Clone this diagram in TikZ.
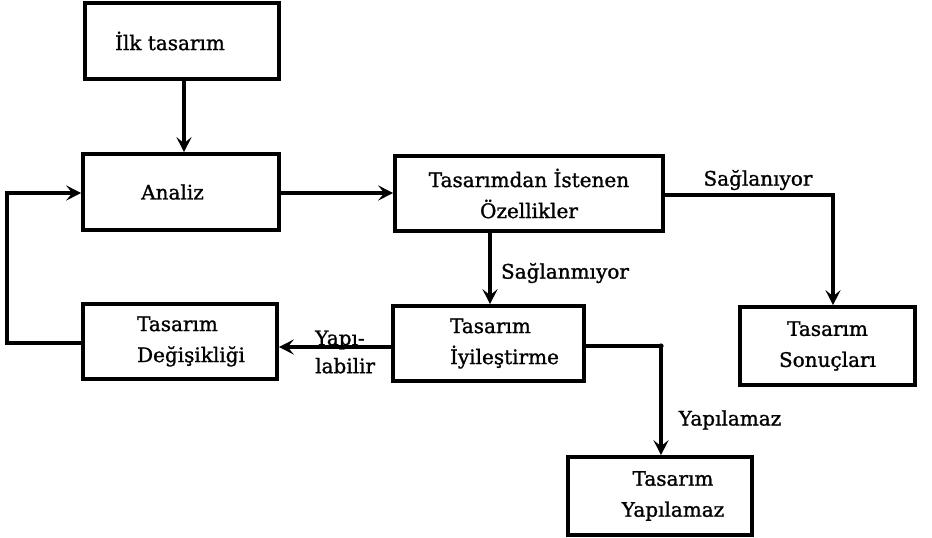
\documentclass[tikz,border=0pt]{standalone}
\usepackage{fontspec}
\setmainfont{DejaVu Serif}[FakeBold=1.2]
\usetikzlibrary{arrows.meta}
\begin{document}
\begin{tikzpicture}[x=1pt,y=-1pt,
  box/.style={draw,line width=3.6pt,inner sep=0pt,align=center,font=\fontsize{20}{31}\selectfont},
  lbl/.style={inner sep=0pt,font=\fontsize{20}{28}\selectfont},
  conn/.style={line width=3.4pt,-{Stealth[length=15pt,width=15pt,inset=6pt]}}]
\useasboundingbox (0,0) rectangle (932,538);
\node[box,minimum width=194pt,minimum height=76pt] (ilk) at (182,41) {İlk tasarım\hspace*{24pt}};
\node[box,minimum width=196pt,minimum height=76pt] (analiz) at (181,192) {Analiz\hspace*{17pt}};
\node[box,minimum width=268pt,minimum height=75pt] (ozel) at (529,193.5) {Tasarımdan İstenen\\Özellikler};
\node[box,align=left,minimum width=191pt,minimum height=75pt] (iyi) at (488.5,343.5) {\hspace*{32pt}Tasarım\\\hspace*{32pt}İyileştirme};
\node[box,align=left,minimum width=194pt,minimum height=75pt] (degis) at (180,341.5) {\hspace*{22pt}Tasarım\\\hspace*{22pt}Değişikliği};
\node[box,minimum width=175pt,minimum height=78pt] (sonuc) at (827.5,346) {Tasarım\\Sonuçları};
\node[box,minimum width=184pt,minimum height=78pt] (yap) at (660,496) {\hspace*{26pt}Tasarım\\\hspace*{26pt}Yapılamaz};
\coordinate (c1) at (833,195);
\coordinate (c2) at (661,346);
\coordinate (c3) at (7,343);
\coordinate (c4) at (7,193);
\draw[conn] (ilk.south -| 184,0) -- (analiz.north -| 184,0);
\draw[conn] (analiz.east |- 0,193) -- (ozel.west |- 0,193);
\draw[conn] (ozel.east |- c1) -- (c1) -- (sonuc.north -| c1);
\draw[conn] (ozel.south -| 490,0) -- (iyi.north -| 490,0);
\draw[conn] (iyi.east |- c2) -- (c2) -- (yap.north -| c2);
\fill (c2) circle (2.6pt);
\draw[conn] (iyi.west |- 0,347) -- (degis.east |- 0,347);
\draw[conn] (degis.west |- c3) -- (c3) -- (c4) -- (analiz.west |- c4);
\node[lbl] (l1) at (758,180) {Sağlanıyor};
\node[lbl] (l2) at (565,273) {Sağlanmıyor};
\node[lbl] (l3) at (730,420) {Yapılamaz};
\node[lbl,anchor=west,align=left] (l4) at (315,352) {Yapı-\\labilir};
\end{tikzpicture}
\end{document}
